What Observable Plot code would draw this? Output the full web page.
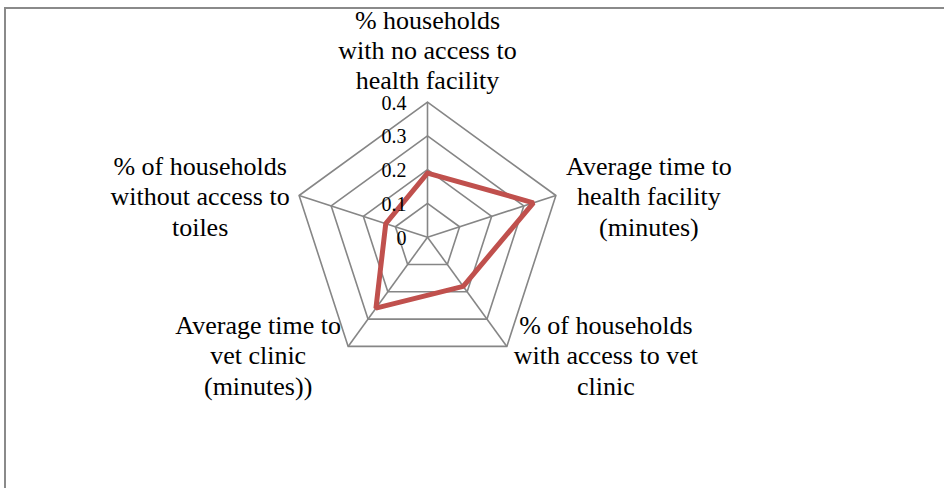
<!DOCTYPE html>
<html>
<head>
<meta charset="utf-8">
<script src="https://cdn.jsdelivr.net/npm/d3@7"></script>
<script src="https://cdn.jsdelivr.net/npm/@observablehq/plot@0.6"></script>
<style>
  html, body { margin: 0; padding: 0; background: #fff; overflow: hidden; }
  #wrap { position: relative; width: 944px; height: 488px; }
  #border { position: absolute; left: 4px; top: 7px; width: 1000px; height: 600px;
            border-top: 2px solid #8a8a8a; border-left: 2px solid #8a8a8a; }
  #chart { position: absolute; left: 0; top: 0; }
</style>
</head>
<body>
<div id="wrap"><div id="border"></div><div id="chart"></div></div>
<script>
// Data
const categories = [
  "% households\nwith no access to\nhealth facility",
  "Average time to\nhealth facility\n(minutes)",
  "% of households\nwith access to vet\nclinic",
  "Average time to\nvet clinic\n(minutes))",
  "% of households\nwithout access to\ntoiles"
];
const values = [0.19, 0.33, 0.18, 0.26, 0.13];
const ticks = [0, 0.1, 0.2, 0.3, 0.4];
const tickLabels = ["0", "0.1", "0.2", "0.3", "0.4"];

const n = categories.length;
const maxV = 0.4;
const angle = i => Math.PI / 2 - (2 * Math.PI * i) / n; // start at top, clockwise
const px = (r, i) => r * Math.cos(angle(i));
const py = (r, i) => r * Math.sin(angle(i));

// polygon rings
const rings = ticks.filter(t => t > 0).flatMap(t =>
  d3.range(n + 1).map(k => ({ ring: t, x: px(t, k % n), y: py(t, k % n) }))
);
const spokes = d3.range(n).map(i => ({ x1: 0, y1: 0, x2: px(maxV, i), y2: py(maxV, i) }));
const series = d3.range(n + 1).map(k => ({ x: px(values[k % n], k % n), y: py(values[k % n], k % n) }));
const tickData = ticks.map((t, i) => ({ x: 0, y: t, label: tickLabels[i] }));

// scale: pixels per unit
const W = 944, H = 488, cx = 427, cy = 236.7, unit = 135 / maxV;

const labelOffsets = [
  { dx: 0, dy: -53 },
  { dx: 93, dy: 0 },
  { dx: 99, dy: 8 },
  { dx: -90, dy: 8 },
  { dx: -99, dy: 0 }
];

const font = "'Liberation Serif', 'Times New Roman', serif";

const labelMarks = categories.map((c, i) =>
  Plot.text([{ x: px(maxV, i), y: py(maxV, i), label: c }], {
    x: "x", y: "y", text: "label",
    dx: labelOffsets[i].dx, dy: labelOffsets[i].dy,
    textAnchor: "middle", lineAnchor: "middle",
    fontSize: 26, lineHeight: 1.17, fill: "#000"
  })
);

const plot = Plot.plot({
  width: W, height: H,
  margin: 0,
  style: { fontFamily: font, background: "transparent" },
  x: { domain: [-cx / unit, (W - cx) / unit], range: [0, W], axis: null },
  y: { domain: [-(H - cy) / unit, cy / unit], range: [H, 0], axis: null },
  marks: [
    Plot.line(rings, { x: "x", y: "y", z: "ring", stroke: "#868686", strokeWidth: 1.6 }),
    Plot.link(spokes, { x1: "x1", y1: "y1", x2: "x2", y2: "y2", stroke: "#868686", strokeWidth: 1.6 }),
    Plot.line(series, { x: "x", y: "y", stroke: "#C0504D", strokeWidth: 5, strokeLinejoin: "miter" }),
    Plot.text(tickData, { x: "x", y: "y", text: "label", textAnchor: "end", dx: -21, dy: 1, fontSize: 20, fill: "#000" }),
    ...labelMarks
  ]
});
document.getElementById("chart").appendChild(plot);
</script>
</body>
</html>
